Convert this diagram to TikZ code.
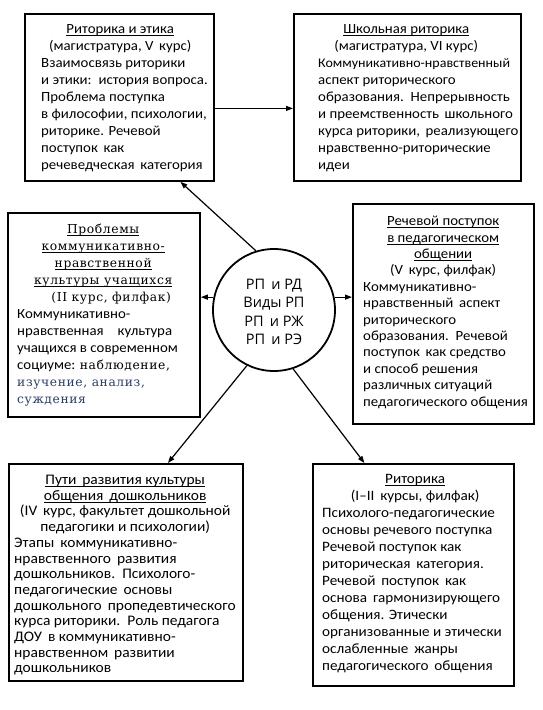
\documentclass[tikz,border=0pt]{standalone}
\usepackage{fontspec}
\setmainfont[FakeStretch=1.06]{Carlito}
\newfontfamily\spserif[LetterSpace=5]{DejaVu Serif}
\newfontfamily\circfont{Open Sans}
\usetikzlibrary{arrows.meta}
\definecolor{navytext}{RGB}{40,62,112}
\newcommand\myul[1]{\leavevmode\setbox0\hbox{#1}\rlap{\rule[-2.2pt]{\wd0}{0.7pt}}\box0}
\newcommand\hs{\spserif\fontsize{12.3}{17}\selectfont}
\begin{document}
\begin{tikzpicture}[x=1pt,y=-1pt,
  box/.style={draw,line width=1.8pt,rectangle,inner sep=0pt,anchor=north west},
  txt/.style={inner sep=0pt,anchor=north west,align=left,font=\fontsize{14}{17}\selectfont},
  arr/.style={line width=1.2pt,-{Triangle[length=7pt,width=5pt]}}]
\useasboundingbox (0,0) rectangle (543,710);
\fill[white] (0,0) rectangle (543,710);

% boxes
\node[box,minimum width=189pt,minimum height=167pt] (r1) at (24,13) {};
\node[box,minimum width=227pt,minimum height=167pt] (r2) at (293,13) {};
\node[box,minimum width=192pt,minimum height=204pt] (r3) at (7,212) {};
\node[box,minimum width=181pt,minimum height=220pt] (r4) at (352,203) {};
\node[box,minimum width=234pt,minimum height=217pt] (r5) at (8,463) {};
\node[box,minimum width=201pt,minimum height=222pt] (r6) at (312,463) {};
\node[draw,circle,line width=1.8pt,minimum size=122pt,inner sep=0pt] (c) at (274,310) {};

% texts
\node[txt] (t1) at (41,24) {%
\makebox[158pt]{\myul{Риторика и этика}}\\
\makebox[158pt]{(магистратура, V\, курс)}\\
Взаимосвязь риторики\\
и этики:\, история вопроса.\\
Проблема поступка\\
в философии, психологии,\\
риторике. Речевой\\
поступок\, как\\
речеведческая\, категория};

\node[txt] (t2) at (318,24) {%
\makebox[176pt]{\myul{Школьная риторика}}\\
\makebox[176pt]{(магистратура, VI курс)}\\
{\fontsize{13.2}{17}\selectfont Коммуникативно-нравственный}\\
аспект риторического\\
образования.\, Непрерывность\\
и преемственность\, школьного\\
курса риторики,\, реализующего\\
нравственно-риторические\\
идеи};

\node[txt] (t3) at (17,224) {%
\makebox[172pt]{\hs\myul{Проблемы}}\\
\makebox[172pt]{\hs\myul{коммуникативно-}}\\
\makebox[172pt]{\hs\myul{нравственной}}\\
\makebox[172pt]{\hs\myul{культуры учащихся}}\\
\makebox[172pt]{\hs\hspace{16pt}(II курс, филфак)}\\
Коммуникативно-\\
нравственная\quad культура\\
учащихся в современном\\
социуме: {\hs наблюдение,}\\
{\hs\color{navytext}изучение, анализ,}\\
{\hs\color{navytext}суждения}};

\node[txt,font=\fontsize{14}{16.4}\selectfont] (t4) at (363,216) {%
\makebox[160pt]{\myul{Речевой поступок}}\\
\makebox[160pt]{\myul{в педагогическом}}\\
\makebox[160pt]{\myul{общении}}\\
\makebox[160pt]{(V\, курс, филфак)}\\
Коммуникативно-\\
нравственный\, аспект\\
риторического\\
образования.\, Речевой\\
поступок\, как средство\\
и способ решения\\
различных ситуаций\\
педагогического общения};

\node[txt,font=\fontsize{14.6}{15.7}\selectfont] (t5) at (14,475) {%
\makebox[222pt]{\myul{Пути\, развития культуры}}\\
\makebox[222pt]{\myul{общения\, дошкольников}}\\
\makebox[222pt]{(IV\, курс, факультет дошкольной}\\
\makebox[222pt]{педагогики и психологии)}\\
Этапы\, коммуникативно-\\
нравственного\, развития\\
дошкольников.\, Психолого-\\
педагогические\, основы\\
дошкольного\, пропедевтического\\
курса риторики.\, Роль педагога\\
ДОУ\, в коммуникативно-\\
нравственном\, развитии\\
дошкольников};

\node[txt,font=\fontsize{14.3}{17}\selectfont] (t6) at (322,474) {%
\makebox[186pt]{\myul{Риторика}}\\
\makebox[186pt]{(I–II\, курсы, филфак)}\\
Психолого-педагогические\\
основы речевого поступка\\
Речевой поступок как\\
риторическая\, категория.\\
Речевой\, поступок\, как\\
основа\, гармонизирующего\\
общения. Этически\\
организованные и этически\\
ослабленные\, жанры\\
педагогического\, общения};

\node[inner sep=0pt,align=center,font=\circfont\fontsize{14.5}{18.5}\selectfont] (ct) at (274,312) {РП\, и РД\\Виды РП\\РП\, и РЖ\\РП\, и РЭ};

% connectors
\draw[arr] ([yshift=-11pt]r1.east) -- ([yshift=-11pt]r1.east -| r2.west);
\draw[arr] (c.107) -- ([xshift=61pt]r1.south);
\draw[arr] (c.168) -- (c.168 -| r3.east);
\draw[arr] (c.12) -- (c.12 -| r4.west);
\draw[arr] (c.244) -- ([xshift=42pt]r5.north);
\draw[arr] (c.288) -- ([xshift=-49pt]r6.north);
\end{tikzpicture}
\end{document}
